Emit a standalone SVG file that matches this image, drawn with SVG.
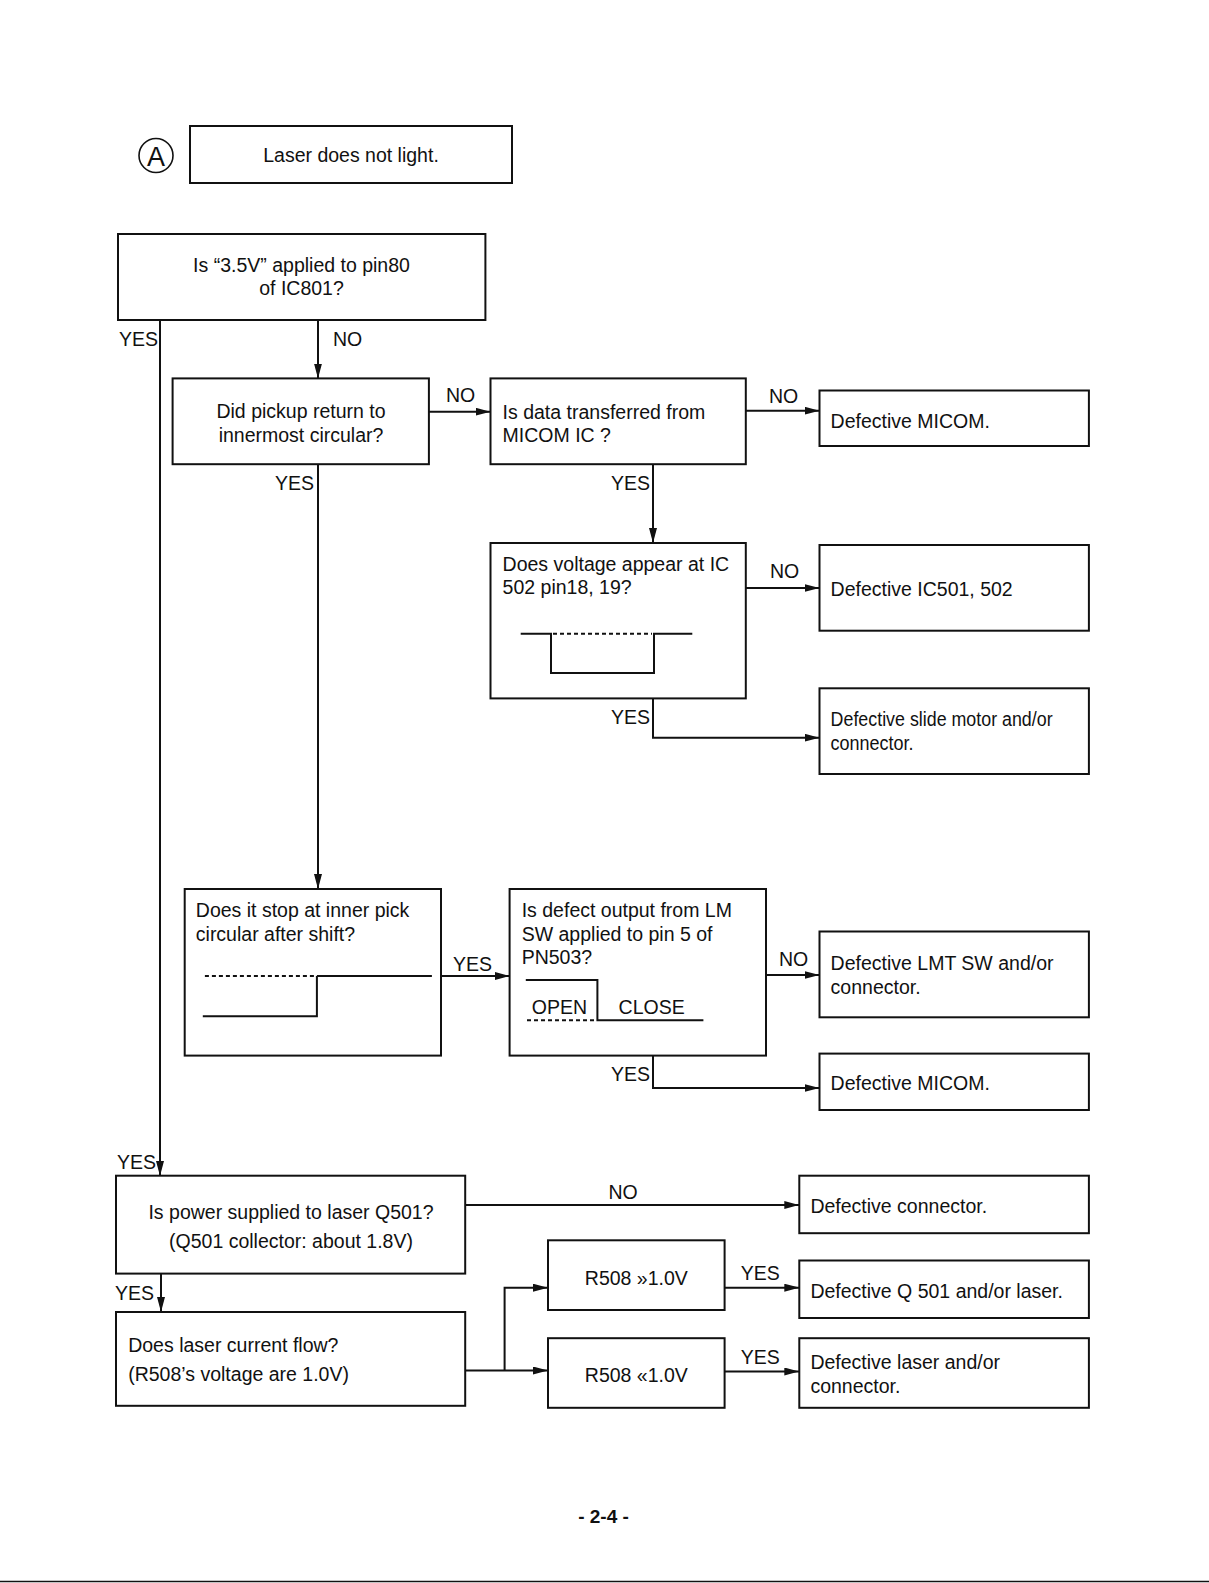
<svg xmlns="http://www.w3.org/2000/svg" width="1209" height="1583" viewBox="0 0 1209 1583">
<style>
  text { font-family: "Liberation Sans", Arial, sans-serif; font-size: 19.5px; fill: #111; }
  .box { fill: #fff; stroke: #111; stroke-width: 2; }
  .c { text-anchor: middle; }
  .e { text-anchor: end; }
  .wave { fill: none; stroke: #111; stroke-width: 2; }
  .dash { fill: none; stroke: #111; stroke-width: 2; stroke-dasharray: 4 3; }
  .conn { fill: none; stroke: #111; stroke-width: 2; }
</style>
<defs>
  <marker id="arr" markerWidth="15" markerHeight="8" refX="15" refY="4" orient="auto" markerUnits="userSpaceOnUse">
    <path d="M0,0 L15,4 L0,8 z" fill="#111"/>
  </marker>
</defs>
<rect width="1209" height="1583" fill="#fff"/>

<g id="connectors">
  <path class="conn" d="M160,320 V1176" marker-end="url(#arr)"/>
  <path class="conn" d="M318,320 V378.5" marker-end="url(#arr)"/>
  <path class="conn" d="M429,411.7 H490.5" marker-end="url(#arr)"/>
  <path class="conn" d="M746,410.7 H819.5" marker-end="url(#arr)"/>
  <path class="conn" d="M653,464 V543" marker-end="url(#arr)"/>
  <path class="conn" d="M746,588 H819.5" marker-end="url(#arr)"/>
  <path class="conn" d="M653,698.4 V737.7 H819.5" marker-end="url(#arr)"/>
  <path class="conn" d="M318,464 V889" marker-end="url(#arr)"/>
  <path class="conn" d="M441,976 H509.6" marker-end="url(#arr)"/>
  <path class="conn" d="M766,975 H819.5" marker-end="url(#arr)"/>
  <path class="conn" d="M653,1055.6 V1088 H819.5" marker-end="url(#arr)"/>
  <path class="conn" d="M465,1205 H799.3" marker-end="url(#arr)"/>
  <path class="conn" d="M161,1273.6 V1312" marker-end="url(#arr)"/>
  <path class="conn" d="M465,1370.5 H548" marker-end="url(#arr)"/>
  <path class="conn" d="M504.6,1370.5 V1287.7 H548" marker-end="url(#arr)"/>
  <path class="conn" d="M724.6,1287.7 H799.3" marker-end="url(#arr)"/>
  <path class="conn" d="M724.6,1371.5 H799.3" marker-end="url(#arr)"/>
  <text x="158" y="346" class="e">YES</text>
  <text x="333" y="346">NO</text>
  <text x="446" y="402">NO</text>
  <text x="769" y="403">NO</text>
  <text x="650" y="490" class="e">YES</text>
  <text x="770" y="578">NO</text>
  <text x="650" y="724" class="e">YES</text>
  <text x="314" y="490" class="e">YES</text>
  <text x="453" y="971">YES</text>
  <text x="779" y="966">NO</text>
  <text x="650" y="1081" class="e">YES</text>
  <text x="156" y="1168.5" class="e">YES</text>
  <text x="608.5" y="1199">NO</text>
  <text x="154" y="1300" class="e">YES</text>
  <text x="740.7" y="1280">YES</text>
  <text x="740.7" y="1364">YES</text>
</g>

<g id="marker-A">
  <circle cx="156" cy="155.5" r="17" fill="none" stroke="#111" stroke-width="1.6"/>
  <text x="156" y="165.5" class="c" style="font-size:27px">A</text>
</g>

<g id="n-start">
  <rect class="box" x="190" y="126" width="322" height="57"/>
  <text x="351" y="162" class="c">Laser does not light.</text>
</g>

<g id="n-pin80">
  <rect class="box" x="118" y="234" width="367.4" height="86"/>
  <text x="301.5" y="271.5" class="c">Is “3.5V” applied to pin80</text>
  <text x="301.5" y="295" class="c">of IC801?</text>
</g>

<g id="n-pickup">
  <rect class="box" x="172.6" y="378.4" width="256.3" height="85.8"/>
  <text x="301" y="418" class="c">Did pickup return to</text>
  <text x="301" y="442" class="c">innermost circular?</text>
</g>

<g id="n-data">
  <rect class="box" x="490.5" y="378.4" width="255.3" height="85.8"/>
  <text x="502.6" y="419">Is data transferred from</text>
  <text x="502.6" y="442">MICOM IC ?</text>
</g>

<g id="n-micom1">
  <rect class="box" x="819.5" y="390.5" width="269.4" height="55.5"/>
  <text x="830.6" y="428">Defective MICOM.</text>
</g>

<g id="n-voltage">
  <rect class="box" x="490.5" y="543" width="255.3" height="155.4"/>
  <text x="502.6" y="570.5">Does voltage appear at IC</text>
  <text x="502.6" y="593.5">502 pin18, 19?</text>
  <path class="wave" d="M520.7,633.8 H551 V673.1 H654 V633.8 H692.3"/>
  <path class="dash" d="M553,633.8 H652"/>
</g>

<g id="n-ic501">
  <rect class="box" x="819.5" y="545" width="269.4" height="85.7"/>
  <text x="830.6" y="595.5">Defective IC501, 502</text>
</g>

<g id="n-slide">
  <rect class="box" x="819.5" y="688.3" width="269.4" height="85.7"/>
  <text x="830.6" y="726" textLength="222" lengthAdjust="spacingAndGlyphs">Defective slide motor and/or</text>
  <text x="830.6" y="750" textLength="83" lengthAdjust="spacingAndGlyphs">connector.</text>
</g>

<g id="n-stop">
  <rect class="box" x="184.7" y="889" width="256.3" height="166.6"/>
  <text x="195.8" y="916.5">Does it stop at inner pick</text>
  <text x="195.8" y="940.5">circular after shift?</text>
  <path class="dash" d="M204.9,975.9 H315"/>
  <path class="wave" d="M316.9,975.9 H431.9 M316.9,975.9 V1016.2 H202.8"/>
</g>

<g id="n-lmsw">
  <rect class="box" x="509.6" y="889" width="256.4" height="166.6"/>
  <text x="521.7" y="916.5">Is defect output from LM</text>
  <text x="521.7" y="940.5">SW applied to pin 5 of</text>
  <text x="521.7" y="964">PN503?</text>
  <path class="wave" d="M525.8,980 H597.4 V1020.3 H703.4"/>
  <path class="dash" d="M527,1020.3 H596"/>
  <text x="531.8" y="1014">OPEN</text>
  <text x="618.6" y="1014">CLOSE</text>
</g>

<g id="n-lmt">
  <rect class="box" x="819.5" y="931.5" width="269.4" height="85.8"/>
  <text x="830.6" y="970">Defective LMT SW and/or</text>
  <text x="830.6" y="994">connector.</text>
</g>

<g id="n-micom2">
  <rect class="box" x="819.5" y="1053.6" width="269.4" height="56.4"/>
  <text x="830.6" y="1090">Defective MICOM.</text>
</g>

<g id="n-power">
  <rect class="box" x="116" y="1175.7" width="349.2" height="97.9"/>
  <text x="291" y="1219" class="c">Is power supplied to laser Q501?</text>
  <text x="291" y="1247.5" class="c">(Q501 collector: about 1.8V)</text>
</g>

<g id="n-connector">
  <rect class="box" x="799.3" y="1175.7" width="289.6" height="57.5"/>
  <text x="810.4" y="1213">Defective connector.</text>
</g>

<g id="n-current">
  <rect class="box" x="116" y="1312" width="349.2" height="93.8"/>
  <text x="128.2" y="1351.5">Does laser current flow?</text>
  <text x="128.2" y="1381">(R508’s voltage are 1.0V)</text>
</g>

<g id="n-r508hi">
  <rect class="box" x="548" y="1240.3" width="176.6" height="69.7"/>
  <text x="636.3" y="1284.5" class="c">R508 »1.0V</text>
</g>

<g id="n-r508lo">
  <rect class="box" x="548" y="1338.2" width="176.6" height="69.6"/>
  <text x="636.3" y="1381.5" class="c">R508 «1.0V</text>
</g>

<g id="n-q501">
  <rect class="box" x="799.3" y="1260.5" width="289.6" height="57.5"/>
  <text x="810.4" y="1298">Defective Q 501 and/or laser.</text>
</g>

<g id="n-laser">
  <rect class="box" x="799.3" y="1338.2" width="289.6" height="69.6"/>
  <text x="810.4" y="1368.5">Defective laser and/or</text>
  <text x="810.4" y="1392.5">connector.</text>
</g>

<text x="603.5" y="1523" class="c" style="font-weight:bold;font-size:19px">- 2-4 -</text>
<line x1="0" y1="1581.5" x2="1209" y2="1581.5" stroke="#111" stroke-width="1.5"/>
</svg>
